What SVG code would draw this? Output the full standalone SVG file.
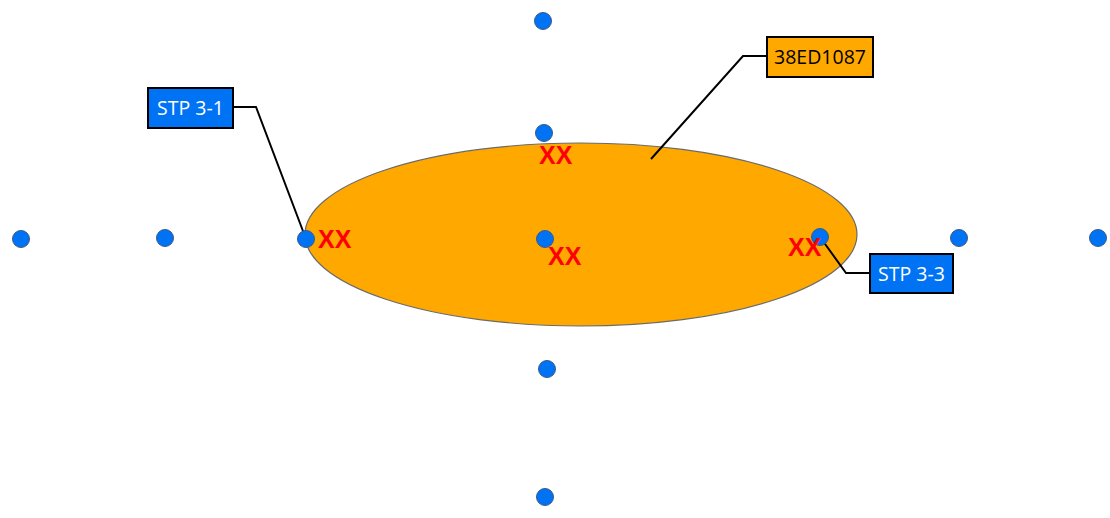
<svg xmlns="http://www.w3.org/2000/svg" width="1110" height="518" viewBox="0 0 1110 518">
<style>
.dot{fill:#0073f5;stroke:#3a5a8a;stroke-width:1}
.xx{fill:#ff0000;font-family:"Liberation Sans",Arial,sans-serif;font-weight:bold;font-size:25px}
.lead{fill:none;stroke:#000;stroke-width:2}
.box{stroke:#000;stroke-width:2}
.lbl{font-family:"Open Sans","Noto Sans",sans-serif;font-size:19.5px}
</style>
<rect width="1110" height="518" fill="#fff"/>
<g id="area"><ellipse cx="581" cy="234.5" rx="276" ry="91.5" fill="#ffa800" stroke="#6a6a6a" stroke-width="1.2"/></g>
<g id="connectors">
<polyline class="lead" points="233,107 256,107 306,239"/>
<polyline class="lead" points="767,56 743,56 651,159"/>
<polyline class="lead" points="870,273 846,273 820,237"/>
</g>
<g id="dots">
<circle id="d1" class="dot" cx="543" cy="21" r="8.5"/>
<circle id="d2" class="dot" cx="544" cy="133" r="8.5"/>
<circle id="d3" class="dot" cx="545" cy="239" r="8.5"/>
<circle id="d4" class="dot" cx="547" cy="369" r="8.5"/>
<circle id="d5" class="dot" cx="545" cy="497" r="8.5"/>
<circle id="d6" class="dot" cx="21" cy="239" r="8.5"/>
<circle id="d7" class="dot" cx="165" cy="238" r="8.5"/>
<circle id="d8" class="dot" cx="306" cy="239" r="8.5"/>
<circle id="d9" class="dot" cx="820" cy="237" r="8.5"/>
<circle id="d10" class="dot" cx="959" cy="238" r="8.5"/>
<circle id="d11" class="dot" cx="1098" cy="238" r="8.5"/>
</g>
<g id="marks">
<text class="xx" x="318" y="248">XX</text>
<text class="xx" x="539" y="164">XX</text>
<text class="xx" x="548" y="265">XX</text>
<text class="xx" x="788" y="256">XX</text>
</g>
<g id="stp31">
<rect class="box" x="148" y="88" width="85" height="40" fill="#0073f5"/>
<text class="lbl" x="190.5" y="115" fill="#fff" text-anchor="middle">STP 3-1</text>
</g>
<g id="ed1087">
<rect class="box" x="767" y="37" width="106" height="40" fill="#ffa800"/>
<text class="lbl" x="820" y="64" fill="#000" text-anchor="middle">38ED1087</text>
</g>
<g id="stp33">
<rect class="box" x="870" y="254" width="83" height="39" fill="#0073f5"/>
<text class="lbl" x="911.5" y="280.5" fill="#fff" text-anchor="middle">STP 3-3</text>
</g>
</svg>
